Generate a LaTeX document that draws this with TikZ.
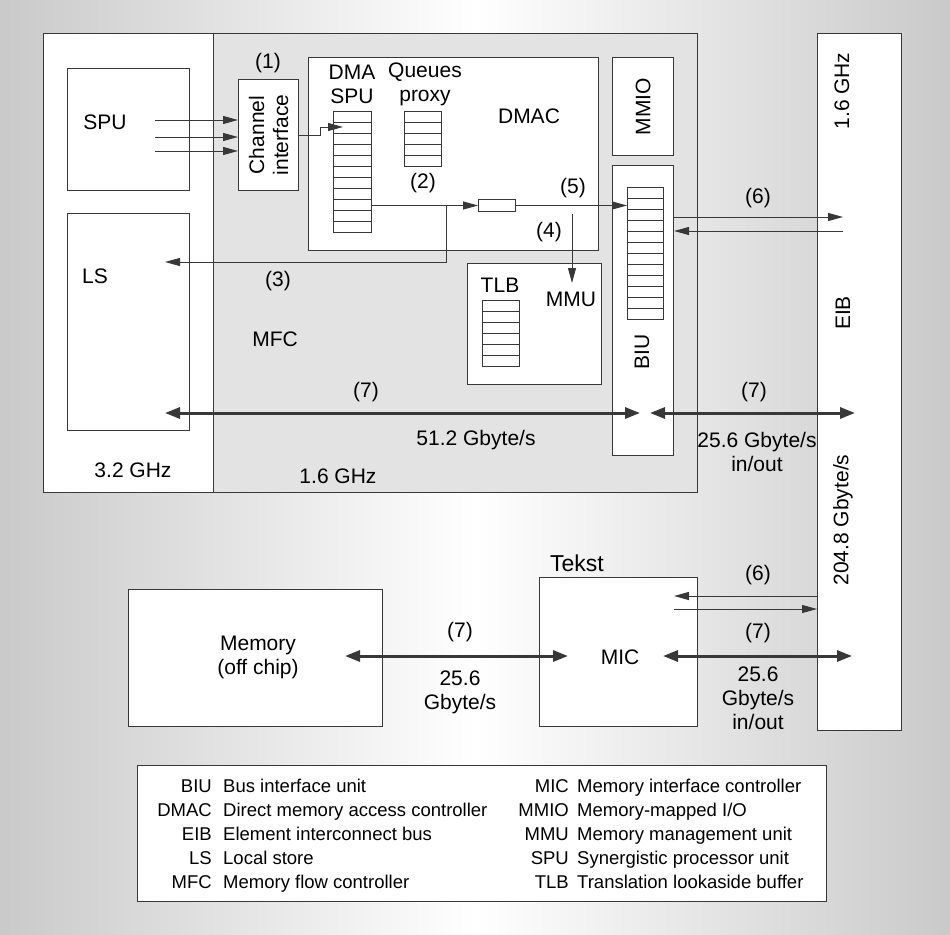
\documentclass[tikz,border=0pt]{standalone}
\usepackage{fontspec}
\setmainfont{Liberation Sans}
\usetikzlibrary{arrows.meta}
\colorlet{edge}{black!78}
\colorlet{mfcfill}{gray!22}

\begin{document}
\begin{tikzpicture}[x=1pt,y=-1pt,
    every node/.style={font=\fontsize{21}{24}\selectfont,inner sep=0pt,align=center},
    box/.style={draw=edge,fill=white,line width=1.1pt,anchor=north west},
    buf/.style={draw=edge,fill=white,line width=1pt,anchor=north west},
    arr/.style={draw=edge,line width=1pt,-{Triangle[length=15pt,width=8pt]}},
    bus/.style={draw=edge,line width=3pt,{Triangle[length=15pt,width=11pt]}-{Triangle[length=15pt,width=11pt]}},
    vert/.style={rotate=90},
    key/.style={font=\fontsize{18.5}{22}\selectfont}]
 \shade[left color=gray!42,right color=gray!42,middle color=white] (0,0) rectangle (950,934);
 \useasboundingbox (0,0) rectangle (950,934);
 % chip blocks
 \node[box,fill=mfcfill,minimum width=484,minimum height=459] (mfc) at (213,33) {};
 \node[box,minimum width=170,minimum height=459] (core) at (43,33) {};
 \node[box,minimum width=122,minimum height=122] (spu) at (67,68) {};
 \node[box,minimum width=122,minimum height=217] (ls) at (67,213) {};
 \node[box,minimum width=60,minimum height=111] (chan) at (238,79) {};
 \node[box,minimum width=290,minimum height=193] (dmac) at (308,57) {};
 \node[box,minimum width=134,minimum height=121] (mmu) at (467,263) {};
 \node[box,minimum width=61,minimum height=98] (mmio) at (612,57) {};
 \node[box,minimum width=61,minimum height=290] (biu) at (612,165) {};
 \node[box,minimum width=84,minimum height=697] (eib) at (817,33) {};
 \node[box,minimum width=254,minimum height=137] (mem) at (128,589) {};
 \node[box,minimum width=158,minimum height=149] (mic) at (539,577) {};
 \node[box,minimum width=689,minimum height=136] (legend) at (137,765) {};
 % queues
 \node[buf,minimum width=38,minimum height=121] (dmaq) at (333,111) {};
 \node[buf,minimum width=37,minimum height=55] (proxq) at (404,111) {};
 \node[buf,minimum width=37,minimum height=66] (tlbq) at (482,300) {};
 \node[buf,minimum width=36,minimum height=132] (biuq) at (627,187) {};
 \node[buf,minimum width=37,minimum height=12] (slot) at (478,199) {};
 \foreach \q/\n in {dmaq/10,proxq/4,tlbq/5,biuq/11}
   \foreach \i in {1,...,\n}
     \draw[edge,line width=1pt] ([yshift={-\i*11}]\q.north west) -- ([yshift={-\i*11}]\q.north east);
 % labels
 \node (spul) at (105,122) {SPU};
 \node (lsl) at (95,276) {LS};
 \node (corel) at (133,470) {3.2 GHz};
 \node[vert] (chanl) at (chan.center) {Channel\\interface};
 \node (n1) at (268,63) {(1)};
 \node (dmal) at (352,84) {DMA\\SPU};
 \node (prxl) at (425,84) {Queues\\proxy};
 \node (dmacl) at (529,116) {DMAC};
 \node (n2) at (423,183) {(2)};
 \node (n5) at (573,188) {(5)};
 \node (n4) at (549,232) {(4)};
 \node (n3) at (278,281) {(3)};
 \node (mfcl) at (275,339) {MFC};
 \node (tlbl) at (500,285) {TLB};
 \node (mmul) at (571,299) {MMU};
 \node[vert] (mmiol) at (mmio.center) {MMIO};
 \node[vert] (biul) at (642,352) {BIU};
 \node[vert] (eibf) at (842,91) {1.6 GHz};
 \node[vert] (eibl) at (843,313) {EIB};
 \node[vert] (eibbw) at (843,520) {204.8 Gbyte/s};
 \node (n6a) at (758,198) {(6)};
 \node (n7a) at (366,392) {(7)};
 \node (bw7a) at (476,440) {51.2 Gbyte/s};
 \node (n7b) at (754,392) {(7)};
 \node (bw7b) at (757,452) {25.6 Gbyte/s\\in/out};
 \node (mfcf) at (338,476) {1.6 GHz};
 \node (meml) at (258,657) {Memory\\(off chip)};
 \node (n7c) at (460,632) {(7)};
 \node (bw7c) at (460,692) {25.6\\Gbyte/s};
 \node (micl) at (620,657) {MIC};
 \node[font=\fontsize{23}{26}\selectfont] (tekst) at (577,563) {Tekst};
 \node (n6b) at (758,575) {(6)};
 \node (n7d) at (758,633) {(7)};
 \node (bw7d) at (758,698) {25.6\\Gbyte/s\\in/out};
 % legend
 \foreach \a/\d [count=\i] in {BIU/Bus interface unit,DMAC/Direct memory access controller,
     EIB/Element interconnect bus,LS/Local store,MFC/Memory flow controller}{
   \node[key,anchor=base east] (ka\i) at (212,{768+24*\i}) {\a};
   \node[key,anchor=base west] (kd\i) at (223,{768+24*\i}) {\d};}
 \foreach \a/\d [count=\i] in {MIC/Memory interface controller,MMIO/{Memory-mapped I/O},
     MMU/Memory management unit,SPU/Synergistic processor unit,TLB/Translation lookaside buffer}{
   \node[key,anchor=base east] (kb\i) at (569,{768+24*\i}) {\a};
   \node[key,anchor=base west] (ke\i) at (577,{768+24*\i}) {\d};}
 % channel and DMA paths
 \foreach \y [count=\i] in {120,137,151}{
   \coordinate (sp\i) at (155,\y);
   \draw[arr] (sp\i) -- (sp\i -| chan.west);}
 \coordinate (dmain) at (343,127);
 \draw[arr] (chan.east) -- ++(21,0) |- (dmain);
 \draw[arr] (slot.west -| dmaq.east) -- (slot.west);
 \coordinate (br) at (446,205);
 \coordinate (lsin) at (165,262);
 \draw[arr] (br) |- (lsin);
 \draw[arr] (slot.east) -- (slot.east -| biuq.west);
 \coordinate (mmuout) at (572,214);
 \coordinate (mmuin) at (572,283);
 \draw[arr] (mmuout) -- (mmuin);
 \coordinate (e6a) at (843,217);
 \coordinate (e6b) at (843,231);
 \draw[arr] (e6a -| biu.east) -- (e6a);
 \draw[arr] (e6b) -- (e6b -| biu.east);
 % buses
 \coordinate (ls7) at (165,413);
 \coordinate (biu7w) at (640,413);
 \coordinate (biu7e) at (650,413);
 \coordinate (eib7) at (855,413);
 \draw[bus] (ls7) -- (biu7w);
 \draw[bus] (biu7e) -- (eib7);
 \coordinate (mem7) at (345,656);
 \coordinate (mic7w) at (568,656);
 \coordinate (mic7e) at (663,656);
 \coordinate (eib7s) at (852,656);
 \draw[bus] (mem7) -- (mic7w);
 \draw[bus] (mic7e) -- (eib7s);
 \coordinate (mic6a) at (674,596);
 \coordinate (mic6b) at (674,609);
 \draw[arr] (mic6a -| eib.west) -- (mic6a);
 \draw[arr] (mic6b) -- (mic6b -| eib.west);
\end{tikzpicture}
\end{document}
